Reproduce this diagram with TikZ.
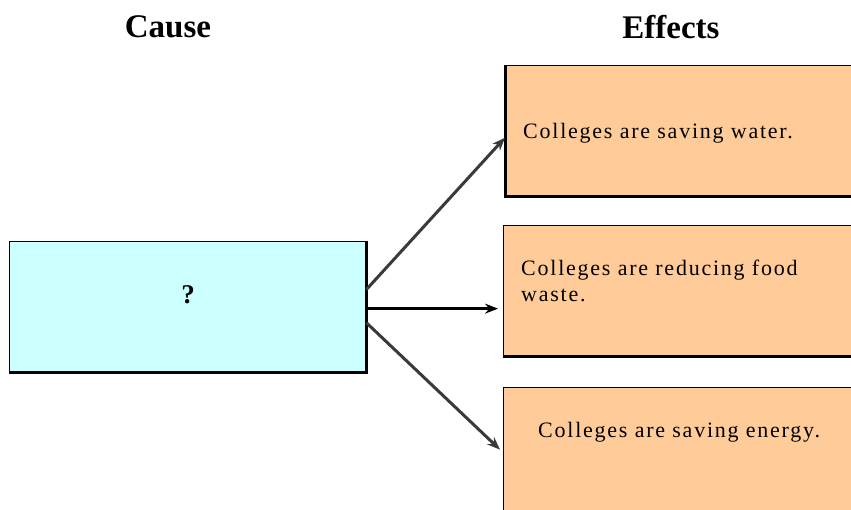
\documentclass[tikz,border=0pt]{standalone}
\usepackage{fontspec}
\setmainfont{Liberation Serif}
\usetikzlibrary{arrows.meta}
\definecolor{causefill}{HTML}{CCFFFF}
\definecolor{effectfill}{HTML}{FFCC99}
\definecolor{arrowgray}{HTML}{3A3A3A}
\tikzset{
  boxshape/.style={draw=black, line width=1.3pt, rectangle, inner sep=0pt,
    minimum width=#1, minimum height=130pt, anchor=north west},
  causebox/.style={boxshape=356pt, fill=causefill},
  effectbox/.style={boxshape=370pt, fill=effectfill},
  shadowline/.style={line width=3pt, black},
  heading/.style={font=\fontsize{33}{36}\selectfont\bfseries, inner sep=0pt},
  boxtext/.style={font=\fontsize{22}{26}\selectfont\addfontfeature{LetterSpace=8}, inner sep=0pt, anchor=west, align=left},
  arr/.style={line width=3pt, arrowgray, -{Stealth[length=13pt,width=10pt]}},
  arrsolid/.style={line width=2.4pt, black, -{Stealth[length=13pt,width=10pt]}}
}
\begin{document}
\begin{tikzpicture}[x=1pt,y=-1pt]
\useasboundingbox (0,0) rectangle (851,510);
\clip (0,0) rectangle (851,510);
\fill[white] (0,0) rectangle (851,510);
% headings
\node[heading] (hcause) at (168,27) {Cause};
\node[heading] (heffects) at (671,27) {Effects};
% cause box
\node[causebox] (cause) at (9,241) {};
\draw[shadowline] (cause.south west) -- (cause.south east) -- (cause.north east);
\node[font=\fontsize{27}{30}\selectfont\bfseries, inner sep=0pt] (q) at (188,295) {?};
% effect boxes
\node[effectbox] (e1) at (505,65) {};
\draw[shadowline] (e1.north west) -- (e1.south west) -- (e1.south east);
\node[effectbox] (e2) at (503,225) {};
\draw[shadowline] (e2.south west) -- (e2.south east);
\node[effectbox] (e3) at (503,387) {};
% texts
\node[boxtext] (t1) at (523,133) {Colleges are saving water.};
\node[boxtext, anchor=north west] (t2) at (521,260) {Colleges are reducing food\\waste.};
\node[boxtext] (t3) at (538,432) {Colleges are saving energy.};
% arrows
\draw[arr] ([yshift=17pt]cause.east) -- ([yshift=-7pt]e1.west);
\draw[arrsolid] ([yshift=-2pt]cause.east) -- ([yshift=-18pt,xshift=-5pt]e2.west);
\draw[arr] ([yshift=-16pt]cause.east) -- ([yshift=3pt,xshift=-3pt]e3.west);
\end{tikzpicture}
\end{document}
